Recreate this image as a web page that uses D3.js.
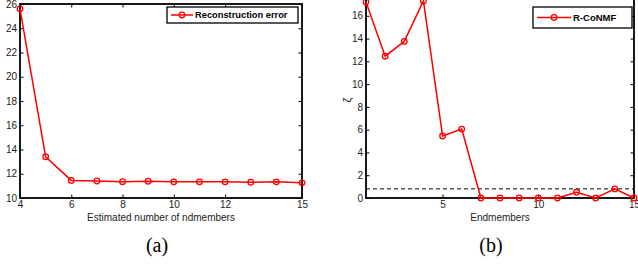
<!DOCTYPE html>
<html>
<head>
<meta charset="utf-8">
<script src="https://cdn.jsdelivr.net/npm/d3@7"></script>
<style>
  body { margin: 0; background: #fff; }
</style>
</head>
<body>
<div id="root"></div>
<script>
// panel (a)
const estNumbers = [4, 5, 6, 7, 8, 9, 10, 11, 12, 13, 14, 15];
const reconError = [25.6, 13.4, 11.45, 11.4, 11.35, 11.38, 11.33, 11.33, 11.33, 11.3, 11.33, 11.25];
const aXTicks = [4, 6, 8, 10, 12, 15];
const aYTicks = [10, 12, 14, 16, 18, 20, 22, 24, 26];

// panel (b)
const endmembers = [1, 2, 3, 4, 5, 6, 7, 8, 9, 10, 11, 12, 13, 14, 15];
const zeta = [17.2, 12.45, 13.75, 17.3, 5.45, 6.05, 0, 0, 0, 0, 0, 0.5, 0, 0.8, 0];
const threshold = 0.8;
const bXTicks = [5, 10, 15];
const bYTicks = [0, 2, 4, 6, 8, 10, 12, 14, 16];

const W = 638, H = 264;
const sans = "Liberation Sans, Arial, sans-serif";
const serif = "Liberation Serif, Times New Roman, serif";
const svg = d3.select("#root").append("svg").attr("width", W).attr("height", H)
  .attr("font-family", sans);

function panel(cfg) {
  const x = d3.scaleLinear().domain(cfg.xDomain).range([cfg.left, cfg.right]);
  const y = d3.scaleLinear().domain(cfg.yDomain).range([cfg.bottom, cfg.top]);
  const g = svg.append("g");
  const tl = 3.5;

  // inward ticks on all four sides
  g.append("g").attr("transform", `translate(0,${cfg.bottom})`)
    .call(d3.axisBottom(x).tickValues(cfg.xTicks).tickSize(-tl).tickPadding(3).tickFormat(d3.format("d")));
  g.append("g").attr("transform", `translate(0,${cfg.top})`)
    .call(d3.axisTop(x).tickValues(cfg.xTicks).tickSize(-tl).tickFormat(""));
  g.append("g").attr("transform", `translate(${cfg.left},0)`)
    .call(d3.axisLeft(y).tickValues(cfg.yTicks).tickSize(-tl).tickPadding(3).tickFormat(d3.format("d")));
  g.append("g").attr("transform", `translate(${cfg.right},0)`)
    .call(d3.axisRight(y).tickValues(cfg.yTicks).tickSize(-tl).tickFormat(""));
  g.selectAll(".domain").remove();
  g.selectAll(".tick line").attr("stroke", "#000").attr("stroke-width", 1);
  g.selectAll(".tick text").attr("font-size", 10).attr("fill", "#222").attr("font-family", sans);

  g.append("rect")
    .attr("x", cfg.left).attr("y", cfg.top)
    .attr("width", cfg.right - cfg.left).attr("height", cfg.bottom - cfg.top)
    .attr("fill", "none").attr("stroke", "#000").attr("stroke-width", 1.8);

  if (cfg.dash != null) {
    g.append("line")
      .attr("x1", cfg.left).attr("x2", cfg.right)
      .attr("y1", y(cfg.dash)).attr("y2", y(cfg.dash))
      .attr("stroke", "#000").attr("stroke-width", 1).attr("stroke-dasharray", "4,3");
  }

  const pts = cfg.xs.map((d, i) => [d, cfg.ys[i]]);
  g.append("path").datum(pts)
    .attr("fill", "none").attr("stroke", "#f00").attr("stroke-width", 1.5)
    .attr("d", d3.line().x(d => x(d[0])).y(d => y(d[1])));
  g.selectAll("circle.m").data(pts).enter().append("circle")
    .attr("class", "m")
    .attr("cx", d => x(d[0])).attr("cy", d => y(d[1])).attr("r", 2.8)
    .attr("fill", "none").attr("stroke", "#f00").attr("stroke-width", 1.3);

  // legend
  const L = cfg.legend;
  g.append("rect").attr("x", L.x).attr("y", L.y).attr("width", L.w).attr("height", L.h)
    .attr("fill", "#fff").attr("stroke", "#000").attr("stroke-width", 1.3);
  const ly = L.y + L.h / 2;
  g.append("line").attr("x1", L.x + 4).attr("x2", L.x + 4 + L.line)
    .attr("y1", ly).attr("y2", ly).attr("stroke", "#f00").attr("stroke-width", 1.5);
  g.append("circle").attr("cx", L.x + 4 + L.line / 2).attr("cy", ly).attr("r", 2.8)
    .attr("fill", "none").attr("stroke", "#f00").attr("stroke-width", 1.3);
  g.append("text").attr("x", L.x + 6 + L.line).attr("y", ly + 3.4)
    .attr("font-size", L.fs).attr("font-weight", "bold").text(L.label);

  // x label
  g.append("text").attr("x", (cfg.left + cfg.right) / 2).attr("y", 221)
    .attr("text-anchor", "middle").attr("font-size", 10).attr("fill", "#222").text(cfg.xLabel);
  // caption
  g.append("text").attr("x", cfg.captionX).attr("y", 252)
    .attr("text-anchor", "middle").attr("font-size", 20)
    .attr("font-family", serif).text(cfg.caption);
  return { x, y, g };
}

panel({
  xs: estNumbers, ys: reconError,
  xDomain: [4, 15], yDomain: [10, 26],
  left: 20, right: 302, top: 4, bottom: 198,
  xTicks: aXTicks, yTicks: aYTicks,
  legend: { x: 167, y: 7, w: 131, h: 16, line: 22, fs: 9.3, label: "Reconstruction error" },
  xLabel: "Estimated number of ndmembers",
  caption: "(a)", captionX: 157
});

const b = panel({
  xs: endmembers, ys: zeta,
  xDomain: [1, 15], yDomain: [0, 18],
  left: 366, right: 634, top: -7, bottom: 198,
  xTicks: bXTicks, yTicks: bYTicks,
  dash: threshold,
  legend: { x: 533, y: 7, w: 99, h: 21, line: 34, fs: 9.5, label: "R-CoNMF" },
  xLabel: "Endmembers",
  caption: "(b)", captionX: 491
});

b.g.append("text")
  .attr("transform", "translate(351,100) rotate(-90)")
  .attr("text-anchor", "middle").attr("font-size", 11).attr("fill", "#222").text("ζ");
</script>
</body>
</html>
